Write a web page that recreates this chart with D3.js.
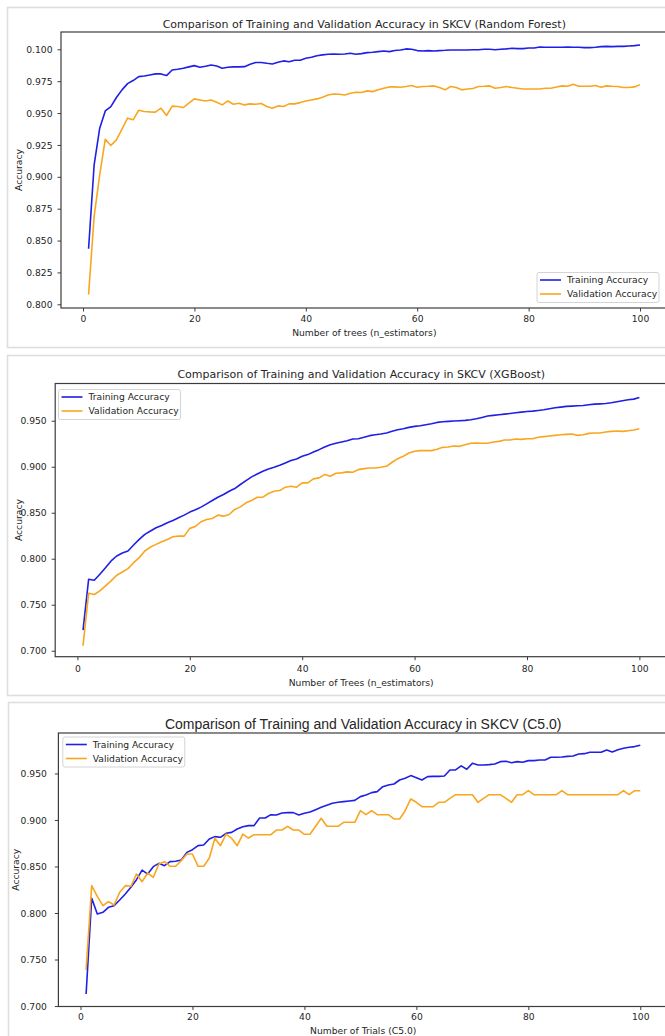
<!DOCTYPE html>
<html>
<head>
<meta charset="utf-8">
<script src="https://cdn.jsdelivr.net/npm/d3@7"></script>
<style>
  html, body { margin: 0; padding: 0; background: #ffffff; }
  svg { display: block; }
  text { font-family: "DejaVu Sans", sans-serif; fill: #262626; }
</style>
</head>
<body>
<svg id="chart" width="665" height="1036"></svg>
<script>
// Number of trees / trials on the x axis
const iterations = d3.range(1, 101);

// Random Forest accuracy per n_estimators
const rfTrain = [
  0.8436, 0.9094, 0.9381, 0.9517, 0.9551, 0.9622, 0.9682, 0.9731, 0.9755, 0.9786,
  0.9791, 0.9799, 0.9807, 0.9807, 0.9794, 0.9838, 0.9843, 0.9851, 0.9862, 0.9872,
  0.9859, 0.9867, 0.9877, 0.9869, 0.9851, 0.9859, 0.9862, 0.9862, 0.9864, 0.9883,
  0.9896, 0.9896, 0.9890, 0.9885, 0.9898, 0.9909, 0.9903, 0.9914, 0.9914, 0.9930,
  0.9937, 0.9950, 0.9956, 0.9961, 0.9963, 0.9961, 0.9963, 0.9969, 0.9961, 0.9966,
  0.9974, 0.9977, 0.9982, 0.9987, 0.9982, 0.9990, 0.9995, 1.0003, 1.0000, 0.9990,
  0.9987, 0.9990, 0.9987, 0.9990, 0.9992, 0.9995, 0.9995, 0.9995, 0.9995, 0.9997,
  0.9997, 1.0000, 1.0000, 0.9997, 1.0000, 1.0003, 1.0008, 1.0005, 1.0005, 1.0010,
  1.0010, 1.0018, 1.0016, 1.0016, 1.0016, 1.0016, 1.0018, 1.0016, 1.0016, 1.0013,
  1.0013, 1.0016, 1.0021, 1.0023, 1.0021, 1.0023, 1.0023, 1.0026, 1.0029, 1.0034
];
const rfVal = [
  0.8076, 0.8690, 0.9016, 0.9295, 0.9246, 0.9290, 0.9374, 0.9460, 0.9447, 0.9522,
  0.9512, 0.9509, 0.9507, 0.9538, 0.9481, 0.9554, 0.9551, 0.9543, 0.9577, 0.9611,
  0.9603, 0.9595, 0.9603, 0.9585, 0.9564, 0.9595, 0.9569, 0.9577, 0.9564, 0.9572,
  0.9569, 0.9575, 0.9551, 0.9538, 0.9556, 0.9551, 0.9572, 0.9572, 0.9582, 0.9595,
  0.9603, 0.9611, 0.9624, 0.9642, 0.9650, 0.9648, 0.9642, 0.9655, 0.9663, 0.9661,
  0.9674, 0.9668, 0.9682, 0.9695, 0.9705, 0.9705, 0.9702, 0.9708, 0.9716, 0.9702,
  0.9708, 0.9710, 0.9713, 0.9700, 0.9682, 0.9708, 0.9700, 0.9682, 0.9689, 0.9692,
  0.9708, 0.9710, 0.9713, 0.9695, 0.9700, 0.9708, 0.9700, 0.9695, 0.9689, 0.9689,
  0.9689, 0.9689, 0.9695, 0.9695, 0.9705, 0.9713, 0.9710, 0.9726, 0.9710, 0.9710,
  0.9710, 0.9716, 0.9702, 0.9713, 0.9710, 0.9708, 0.9700, 0.9700, 0.9705, 0.9723
];

// XGBoost accuracy per n_estimators
const xgbTrain = [
  0.7224, 0.7777, 0.7766, 0.7831, 0.7903, 0.7976, 0.8030, 0.8062, 0.8084, 0.8149,
  0.8210, 0.8265, 0.8301, 0.8337, 0.8362, 0.8391, 0.8416, 0.8445, 0.8474, 0.8507,
  0.8532, 0.8561, 0.8597, 0.8633, 0.8669, 0.8698, 0.8734, 0.8763, 0.8807, 0.8850,
  0.8890, 0.8922, 0.8951, 0.8976, 0.8994, 0.9016, 0.9041, 0.9067, 0.9085, 0.9114,
  0.9132, 0.9161, 0.9186, 0.9215, 0.9240, 0.9255, 0.9269, 0.9283, 0.9301, 0.9305,
  0.9320, 0.9338, 0.9348, 0.9356, 0.9367, 0.9385, 0.9403, 0.9413, 0.9428, 0.9439,
  0.9446, 0.9457, 0.9468, 0.9482, 0.9489, 0.9493, 0.9497, 0.9500, 0.9504, 0.9511,
  0.9522, 0.9536, 0.9551, 0.9558, 0.9565, 0.9572, 0.9579, 0.9587, 0.9594, 0.9601,
  0.9605, 0.9612, 0.9619, 0.9630, 0.9641, 0.9648, 0.9656, 0.9659, 0.9663, 0.9666,
  0.9674, 0.9681, 0.9684, 0.9688, 0.9695, 0.9706, 0.9717, 0.9728, 0.9735, 0.9753
];
const xgbVal = [
  0.7054, 0.7625, 0.7611, 0.7650, 0.7705, 0.7759, 0.7820, 0.7856, 0.7892, 0.7957,
  0.8012, 0.8084, 0.8127, 0.8156, 0.8185, 0.8210, 0.8239, 0.8246, 0.8246, 0.8330,
  0.8351, 0.8402, 0.8427, 0.8438, 0.8474, 0.8463, 0.8481, 0.8536, 0.8564, 0.8608,
  0.8633, 0.8669, 0.8669, 0.8709, 0.8734, 0.8741, 0.8778, 0.8788, 0.8778, 0.8825,
  0.8825, 0.8868, 0.8879, 0.8915, 0.8897, 0.8929, 0.8933, 0.8944, 0.8940, 0.8969,
  0.8980, 0.8987, 0.8987, 0.8994, 0.9005, 0.9049, 0.9088, 0.9114, 0.9150, 0.9168,
  0.9175, 0.9175, 0.9175, 0.9190, 0.9211, 0.9215, 0.9226, 0.9222, 0.9240, 0.9255,
  0.9258, 0.9255, 0.9255, 0.9269, 0.9276, 0.9291, 0.9291, 0.9301, 0.9298, 0.9305,
  0.9305, 0.9320, 0.9327, 0.9334, 0.9341, 0.9348, 0.9352, 0.9356, 0.9341, 0.9348,
  0.9363, 0.9367, 0.9367, 0.9377, 0.9385, 0.9388, 0.9385, 0.9392, 0.9399, 0.9413
];

// C5.0 accuracy per number of boosting trials
const c50Train = [
  0.7129, 0.8158, 0.7989, 0.8007, 0.8061, 0.8079, 0.8140, 0.8204, 0.8276, 0.8358,
  0.8462, 0.8419, 0.8498, 0.8534, 0.8509, 0.8552, 0.8556, 0.8570, 0.8652, 0.8681,
  0.8724, 0.8731, 0.8796, 0.8821, 0.8814, 0.8857, 0.8867, 0.8903, 0.8928, 0.8939,
  0.8939, 0.9022, 0.9022, 0.9057, 0.9054, 0.9075, 0.9079, 0.9079, 0.9054, 0.9072,
  0.9086, 0.9111, 0.9136, 0.9158, 0.9179, 0.9190, 0.9197, 0.9204, 0.9211, 0.9251,
  0.9269, 0.9294, 0.9305, 0.9358, 0.9376, 0.9387, 0.9430, 0.9448, 0.9477, 0.9455,
  0.9430, 0.9466, 0.9469, 0.9469, 0.9473, 0.9538, 0.9538, 0.9581, 0.9545, 0.9609,
  0.9591, 0.9591, 0.9595, 0.9602, 0.9627, 0.9631, 0.9616, 0.9627, 0.9620, 0.9638,
  0.9638, 0.9645, 0.9645, 0.9674, 0.9674, 0.9677, 0.9684, 0.9688, 0.9710, 0.9713,
  0.9728, 0.9728, 0.9728, 0.9753, 0.9731, 0.9756, 0.9771, 0.9781, 0.9789, 0.9803
];
const c50Val = [
  0.7387, 0.8294, 0.8179, 0.8079, 0.8122, 0.8086, 0.8222, 0.8294, 0.8287, 0.8419,
  0.8337, 0.8430, 0.8384, 0.8527, 0.8552, 0.8502, 0.8502, 0.8563, 0.8634, 0.8634,
  0.8502, 0.8502, 0.8588, 0.8803, 0.8724, 0.8849, 0.8803, 0.8724, 0.8849, 0.8806,
  0.8842, 0.8842, 0.8842, 0.8842, 0.8892, 0.8892, 0.8932, 0.8892, 0.8892, 0.8846,
  0.8846, 0.8932, 0.9018, 0.8932, 0.8932, 0.8932, 0.8975, 0.8975, 0.8975, 0.9100,
  0.9057, 0.9100, 0.9057, 0.9057, 0.9057, 0.9011, 0.9011, 0.9100, 0.9226, 0.9190,
  0.9143, 0.9143, 0.9143, 0.9190, 0.9190, 0.9233, 0.9272, 0.9272, 0.9272, 0.9272,
  0.9190, 0.9233, 0.9272, 0.9272, 0.9272, 0.9233, 0.9190, 0.9272, 0.9272, 0.9315,
  0.9272, 0.9272, 0.9272, 0.9272, 0.9272, 0.9315, 0.9272, 0.9272, 0.9272, 0.9272,
  0.9272, 0.9272, 0.9272, 0.9272, 0.9272, 0.9272, 0.9315, 0.9272, 0.9315, 0.9315
];

// Axis ticks and their labels
const xTicks = [0, 20, 40, 60, 80, 100];
const rfYTicks = [0.800, 0.825, 0.850, 0.875, 0.900, 0.925, 0.950, 0.975, 1.000];
const rfYTickLabels = ["0.800", "0.825", "0.850", "0.875", "0.900", "0.925", "0.950", "0.975", "0.100"];
const boostYTicks = [0.700, 0.750, 0.800, 0.850, 0.900, 0.950];
const boostYTickLabels = ["0.700", "0.750", "0.800", "0.850", "0.900", "0.950"];

const seriesNames = ["Training Accuracy", "Validation Accuracy"];
const seriesColors = ["#1f1fe6", "#f9a61f"];

const svg = d3.select("#chart");

const panels = [
  {
    frame: { top: 7, bottom: 347, left: 7 },
    plot: { left: 61, right: 667.6, top: 32, bottom: 308 },
    yDomain: [0.7971, 1.01357],
    title: "Comparison of Training and Validation Accuracy in SKCV (Random Forest)",
    titleFont: "DejaVu Sans", titleSize: 11, titleY: 27.5,
    xLabel: "Number of trees (n_estimators)", xLabelY: 335.5, xTickY: 321.5,
    yTicks: rfYTicks, yTickLabels: rfYTickLabels, yTickGap: 8.5,
    yLabelX: 18.5,
    train: rfTrain, val: rfVal,
    legend: { x: 537, y: 272.5 }
  },
  {
    frame: { top: 355, bottom: 695, left: 7 },
    plot: { left: 55.2, right: 667.2, top: 383.5, bottom: 656.7 },
    yDomain: [0.6935, 0.9905],
    title: "Comparison of Training and Validation Accuracy in SKCV (XGBoost)",
    titleFont: "DejaVu Sans", titleSize: 11, titleY: 377.5,
    xLabel: "Number of Trees (n_estimators)", xLabelY: 685.5, xTickY: 671.5,
    yTicks: boostYTicks, yTickLabels: boostYTickLabels, yTickGap: 8.5,
    yLabelX: 18.5,
    train: xgbTrain, val: xgbVal,
    legend: { x: 58.5, y: 389.5 }
  },
  {
    frame: { top: 702, bottom: 1060, left: 8 },
    plot: { left: 58.4, right: 668, top: 733, bottom: 1006.5 },
    yDomain: [0.6995, 0.9935],
    title: "Comparison of Training and Validation Accuracy in SKCV (C5.0)",
    titleFont: "Liberation Sans", titleSize: 14, titleY: 728.5,
    xLabel: "Number of Trials (C5.0)", xLabelY: 1034, xTickY: 1019.5,
    yTicks: boostYTicks, yTickLabels: boostYTickLabels, yTickGap: 11.5,
    yLabelX: 15.5,
    train: c50Train, val: c50Val,
    legend: { x: 62.8, y: 737 }
  }
];

panels.forEach(p => {
  const g = svg.append("g");

  // light frame around each figure
  g.append("rect")
    .attr("x", p.frame.left + 0.5).attr("y", p.frame.top + 0.5)
    .attr("width", 720).attr("height", p.frame.bottom - p.frame.top)
    .attr("fill", "#ffffff").attr("stroke", "#dedede").attr("stroke-width", 1.6);

  const x = d3.scaleLinear().domain([-3.95, 104.95]).range([p.plot.left, p.plot.right]);
  const y = d3.scaleLinear().domain(p.yDomain).range([p.plot.bottom, p.plot.top]);

  // series lines
  const line = d3.line().x((d, i) => x(iterations[i])).y(d => y(d));
  [p.train, p.val].forEach((s, k) => {
    g.append("path").datum(s)
      .attr("d", line)
      .attr("fill", "none")
      .attr("stroke", seriesColors[k])
      .attr("stroke-width", 1.6)
      .attr("stroke-linejoin", "round");
  });

  // axes
  const xAxis = d3.axisBottom(x).tickValues(xTicks).tickSize(3.5).tickPadding(3).tickFormat(d3.format("d"));
  const yAxis = d3.axisLeft(y).tickValues(p.yTicks).tickSize(3.5)
    .tickPadding(p.yTickGap - 3.5)
    .tickFormat((d, i) => p.yTickLabels[i]);

  const gx = g.append("g").attr("transform", `translate(0,${p.plot.bottom})`).call(xAxis);
  const gy = g.append("g").attr("transform", `translate(${p.plot.left},0)`).call(yAxis);
  [gx, gy].forEach(ax => {
    ax.select(".domain").remove();
    ax.selectAll(".tick line").attr("stroke", "#3c3c3c").attr("stroke-width", 1);
    ax.selectAll(".tick text")
      .attr("fill", "#262626")
      .style("font-family", "DejaVu Sans")
      .style("font-size", "9.2px");
  });
  gx.selectAll(".tick text").attr("dy", null).attr("y", null)
    .attr("transform", `translate(0,${p.xTickY - p.plot.bottom})`);
  gy.selectAll(".tick text").attr("dy", "0.34em");

  // frame around plotting area
  g.append("rect")
    .attr("x", p.plot.left).attr("y", p.plot.top)
    .attr("width", p.plot.right - p.plot.left).attr("height", p.plot.bottom - p.plot.top)
    .attr("fill", "none").attr("stroke", "#3c3c3c").attr("stroke-width", 1.2);

  // title and axis labels
  const cx = (p.plot.left + p.plot.right) / 2;
  g.append("text").attr("x", cx).attr("y", p.titleY)
    .attr("text-anchor", "middle")
    .style("font-family", p.titleFont).style("font-size", p.titleSize + "px")
    .text(p.title);
  g.append("text").attr("x", cx).attr("y", p.xLabelY)
    .attr("text-anchor", "middle").style("font-size", "9.2px")
    .text(p.xLabel);
  const cy = (p.plot.top + p.plot.bottom) / 2;
  g.append("text")
    .attr("transform", `translate(${p.yLabelX},${cy}) rotate(-90)`)
    .attr("text-anchor", "middle").attr("dy", "0.35em").style("font-size", "9.2px")
    .text("Accuracy");

  // legend
  const lg = g.append("g").attr("transform", `translate(${p.legend.x},${p.legend.y})`);
  lg.append("rect").attr("width", 122).attr("height", 30).attr("rx", 2)
    .attr("fill", "#ffffff").attr("fill-opacity", 0.85)
    .attr("stroke", "#d4d4d4").attr("stroke-width", 1);
  seriesNames.forEach((name, k) => {
    const ry = 7.5 + k * 14;
    lg.append("line").attr("x1", 3).attr("x2", 24).attr("y1", ry).attr("y2", ry)
      .attr("stroke", seriesColors[k]).attr("stroke-width", 1.6);
    lg.append("text").attr("x", 30).attr("y", ry).attr("dy", "0.35em")
      .style("font-size", "9.2px").text(name);
  });
});
</script>
</body>
</html>
